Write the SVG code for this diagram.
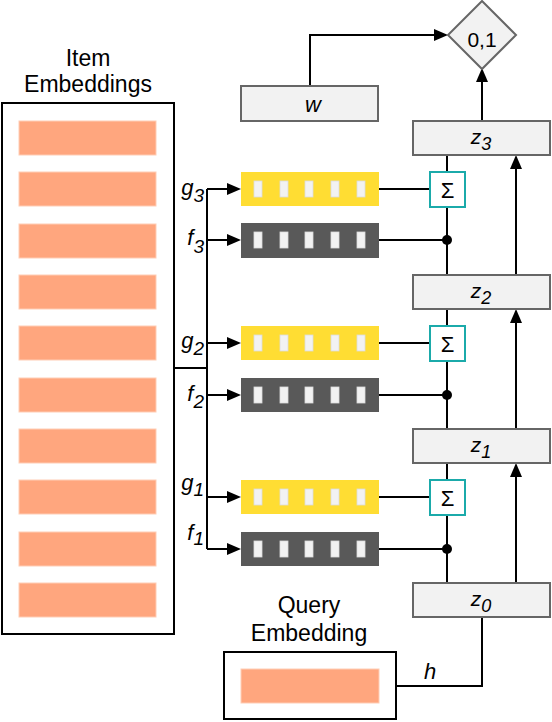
<svg xmlns="http://www.w3.org/2000/svg" width="552" height="722" viewBox="0 0 552 722">
<style>
text{font-family:"Liberation Sans",Arial,sans-serif;fill:#000}
.lbl{font-size:23px;text-anchor:middle}
.it{font-style:italic}
.c{stroke:#000;stroke-width:2;fill:none}
.stripe{fill:#FFA67E;stroke:#FFCDB5;stroke-width:1}
.frame{fill:#fff;stroke:#000;stroke-width:2}
.zb{fill:#F2F2F2;stroke:#666;stroke-width:2}
.yel{fill:#FFDD33}
.gry{fill:#595959}
.mk{fill:#F2F2F2;stroke:#dcdcdc;stroke-width:0.8}
.sig{fill:#fff;stroke:#1BAAAA;stroke-width:2}
</style>
<defs>
<marker id="arr" markerWidth="14" markerHeight="12" refX="10" refY="6" orient="auto" markerUnits="userSpaceOnUse"><path d="M0,0 L14,6 L0,12 z" fill="#000"/></marker>
<g id="marks">
<rect class="mk" x="13" y="9" width="8" height="16"/>
<rect class="mk" x="39" y="9" width="8" height="16"/>
<rect class="mk" x="64" y="9" width="8" height="16"/>
<rect class="mk" x="90" y="9" width="8" height="16"/>
<rect class="mk" x="116" y="9" width="8" height="16"/>
</g>
</defs>

<g id="connectors">
<line class="c" x1="174" y1="368" x2="207" y2="368"/>
<line class="c" x1="207" y1="189" x2="207" y2="549"/>
<line class="c" x1="207" y1="189" x2="237" y2="189" marker-end="url(#arr)"/>
<line class="c" x1="207" y1="240" x2="237" y2="240" marker-end="url(#arr)"/>
<line class="c" x1="207" y1="343" x2="237" y2="343" marker-end="url(#arr)"/>
<line class="c" x1="207" y1="395" x2="237" y2="395" marker-end="url(#arr)"/>
<line class="c" x1="207" y1="497" x2="237" y2="497" marker-end="url(#arr)"/>
<line class="c" x1="207" y1="549" x2="237" y2="549" marker-end="url(#arr)"/>
<line class="c" x1="379" y1="189" x2="430" y2="189"/>
<line class="c" x1="379" y1="240" x2="447" y2="240"/>
<line class="c" x1="379" y1="343" x2="430" y2="343"/>
<line class="c" x1="379" y1="395" x2="447" y2="395"/>
<line class="c" x1="379" y1="497" x2="430" y2="497"/>
<line class="c" x1="379" y1="549" x2="447" y2="549"/>
<line class="c" x1="447" y1="155" x2="447" y2="172"/>
<line class="c" x1="447" y1="207" x2="447" y2="275"/>
<line class="c" x1="447" y1="309" x2="447" y2="326"/>
<line class="c" x1="447" y1="361" x2="447" y2="429"/>
<line class="c" x1="447" y1="463" x2="447" y2="480"/>
<line class="c" x1="447" y1="515" x2="447" y2="583"/>
<circle cx="447" cy="240" r="5" fill="#000"/>
<circle cx="447" cy="395" r="5" fill="#000"/>
<circle cx="447" cy="549" r="5" fill="#000"/>
<line class="c" x1="516" y1="275" x2="516" y2="159" marker-end="url(#arr)"/>
<line class="c" x1="516" y1="429" x2="516" y2="313" marker-end="url(#arr)"/>
<line class="c" x1="516" y1="583" x2="516" y2="467" marker-end="url(#arr)"/>
<line class="c" x1="482" y1="121" x2="482" y2="72" marker-end="url(#arr)"/>
<polyline class="c" points="310,86 310,35 444,35" marker-end="url(#arr)"/>
<polyline class="c" points="396,686 482,686 482,617"/>
<text class="it" x="430" y="679" font-size="22" text-anchor="middle">h</text>
</g>

<g id="item-embeddings">
<text class="lbl" x="88" y="66">Item</text>
<text class="lbl" x="88" y="92">Embeddings</text>
<rect class="frame" x="2" y="103" width="172" height="531"/>
<rect class="stripe" x="19" y="121" width="137" height="34"/>
<rect class="stripe" x="19" y="172" width="137" height="34"/>
<rect class="stripe" x="19" y="224" width="137" height="34"/>
<rect class="stripe" x="19" y="275" width="137" height="34"/>
<rect class="stripe" x="19" y="326" width="137" height="34"/>
<rect class="stripe" x="19" y="378" width="137" height="34"/>
<rect class="stripe" x="19" y="429" width="137" height="34"/>
<rect class="stripe" x="19" y="480" width="137" height="34"/>
<rect class="stripe" x="19" y="532" width="137" height="34"/>
<rect class="stripe" x="19" y="583" width="137" height="34"/>
</g>

<g id="query-embedding">
<text class="lbl" x="309" y="613">Query</text>
<text class="lbl" x="309" y="641">Embedding</text>
<rect class="frame" x="224" y="652" width="172" height="67"/>
<rect class="stripe" x="241" y="669" width="138" height="34"/>
</g>

<g id="labels" font-size="22">
<text class="it" x="204" y="195" text-anchor="end">g<tspan font-size="19" dy="7">3</tspan></text>
<text class="it" x="204" y="245" text-anchor="end">f<tspan font-size="19" dy="8">3</tspan></text>
<text class="it" x="204" y="348" text-anchor="end">g<tspan font-size="19" dy="7">2</tspan></text>
<text class="it" x="204" y="401" text-anchor="end">f<tspan font-size="19" dy="7">2</tspan></text>
<text class="it" x="204" y="490" text-anchor="end">g<tspan font-size="19" dy="6">1</tspan></text>
<text class="it" x="204" y="540" text-anchor="end">f<tspan font-size="19" dy="5">1</tspan></text>
</g>

<g id="g3"><rect class="yel" x="241" y="172" width="138" height="34"/><use href="#marks" x="241" y="172"/></g>
<g id="f3"><rect class="gry" x="241" y="223" width="138" height="35"/><use href="#marks" x="241" y="223"/></g>
<g id="g2"><rect class="yel" x="241" y="326" width="138" height="34"/><use href="#marks" x="241" y="326"/></g>
<g id="f2"><rect class="gry" x="241" y="378" width="138" height="34"/><use href="#marks" x="241" y="378"/></g>
<g id="g1"><rect class="yel" x="241" y="480" width="138" height="34"/><use href="#marks" x="241" y="480"/></g>
<g id="f1"><rect class="gry" x="241" y="532" width="138" height="34"/><use href="#marks" x="241" y="532"/></g>

<g id="sum3"><rect class="sig" x="430" y="172" width="35" height="35"/><text x="447.5" y="198" font-size="22" text-anchor="middle">Σ</text></g>
<g id="sum2"><rect class="sig" x="430" y="326" width="35" height="35"/><text x="447.5" y="352" font-size="22" text-anchor="middle">Σ</text></g>
<g id="sum1"><rect class="sig" x="430" y="480" width="35" height="35"/><text x="447.5" y="506" font-size="22" text-anchor="middle">Σ</text></g>

<g id="z3"><rect class="zb" x="413" y="121" width="137" height="34"/><text class="it" x="481" y="144" font-size="21" text-anchor="middle">z<tspan font-size="18" dy="6">3</tspan></text></g>
<g id="z2"><rect class="zb" x="413" y="275" width="137" height="34"/><text class="it" x="481" y="298" font-size="21" text-anchor="middle">z<tspan font-size="18" dy="6">2</tspan></text></g>
<g id="z1"><rect class="zb" x="413" y="429" width="137" height="34"/><text class="it" x="481" y="452" font-size="21" text-anchor="middle">z<tspan font-size="18" dy="6">1</tspan></text></g>
<g id="z0"><rect class="zb" x="413" y="583" width="137" height="34"/><text class="it" x="481" y="606" font-size="21" text-anchor="middle">z<tspan font-size="18" dy="6">0</tspan></text></g>

<g id="w"><rect class="zb" x="241" y="86" width="137" height="35"/><text class="it" x="313" y="112" font-size="22" text-anchor="middle">w</text></g>

<g id="output"><polygon class="zb" points="482,1 516,35 482,69 448,35"/><text x="482" y="47" font-size="21" text-anchor="middle">0,1</text></g>
</svg>
